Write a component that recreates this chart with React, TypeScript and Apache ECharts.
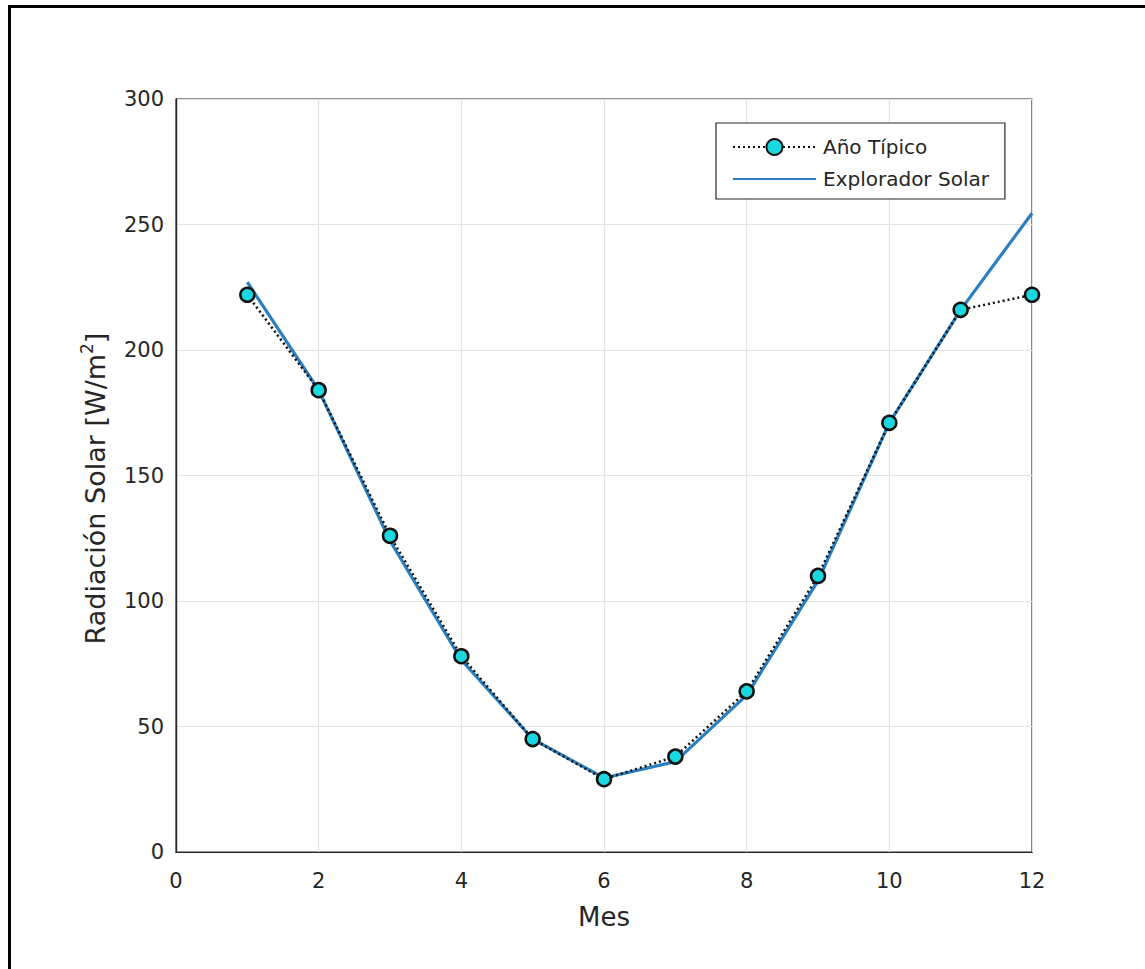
import React, { useEffect, useRef } from "react";
import * as echarts from "echarts";

const months = [1, 2, 3, 4, 5, 6, 7, 8, 9, 10, 11, 12];
const anoTipico = [222, 184, 126, 78, 45, 29, 38, 64, 110, 171, 216, 222];
const exploradorSolar = [227, 184, 124, 76.5, 45, 29.5, 36, 62.5, 108, 171, 216, 254.5];
const xTicks = [0, 2, 4, 6, 8, 10, 12];
const yTicks = [0, 50, 100, 150, 200, 250, 300];

const FONT = "DejaVu Sans, Verdana, sans-serif";
const TXT = "#262626";

export default function App() {
  const ref = useRef<HTMLDivElement>(null);
  useEffect(() => {
    if (!ref.current) return;
    const chart = echarts.init(ref.current, null, { renderer: "svg" });
    const line = { show: true, lineStyle: { color: TXT, width: 1.2 } };
    const tick = { show: false };
    chart.setOption({
      animation: false,
      backgroundColor: "#ffffff",
      textStyle: { fontFamily: FONT },
      grid: { left: 176, top: 99, right: 113, bottom: 117, show: true, borderColor: TXT, borderWidth: 1.2, containLabel: false },
      legend: {
        left: 716,
        top: 123,
        orient: "vertical",
        backgroundColor: "#ffffff",
        borderColor: TXT,
        borderWidth: 1.2,
        borderRadius: 0,
        padding: [14, 16, 10, 16],
        itemWidth: 83,
        itemHeight: 20,
        itemGap: 12,
        textStyle: { fontFamily: FONT, fontSize: 20, color: TXT, padding: [0, 0, 0, 2] },
        data: [
          { name: "Año Típico" },
          { name: "Explorador Solar", itemStyle: { opacity: 0 } },
        ],
      },
      xAxis: [
        {
          type: "value",
          min: 0,
          max: 12,
          interval: 2,
          axisLine: line,
          axisTick: tick,
          name: "Mes",
          nameLocation: "middle",
          nameGap: 52,
          nameTextStyle: { fontFamily: FONT, fontSize: 26, color: TXT },
          axisLabel: { fontFamily: FONT, fontSize: 21, color: TXT, margin: 18, formatter: (v: number) => (xTicks.includes(v) ? String(v) : "") },
          splitLine: { show: true, lineStyle: { color: "#e3e3e3", width: 1.2 } },
        },
        {
          type: "value",
          position: "top",
          min: 0,
          max: 12,
          interval: 2,
          axisLine: line,
          axisTick: tick,
          axisLabel: { show: false },
          splitLine: { show: false },
        },
      ],
      yAxis: [
        {
          type: "value",
          min: 0,
          max: 300,
          interval: 50,
          axisLine: line,
          axisTick: tick,
          name: "Radiación Solar [W/m{sup|2}]",
          nameLocation: "middle",
          nameGap: 64,
          nameTextStyle: {
            fontFamily: FONT,
            fontSize: 27,
            color: TXT,
            padding: [0, 26, 0, 0],
            rich: { sup: { fontFamily: FONT, fontSize: 17, color: TXT, verticalAlign: "top", lineHeight: 34 } },
          },
          axisLabel: { fontFamily: FONT, fontSize: 21, color: TXT, margin: 12, formatter: (v: number) => (yTicks.includes(v) ? String(v) : "") },
          splitLine: { show: true, lineStyle: { color: "#e3e3e3", width: 1.2 } },
        },
        {
          type: "value",
          position: "right",
          min: 0,
          max: 300,
          interval: 50,
          axisLine: line,
          axisTick: tick,
          axisLabel: { show: false },
          splitLine: { show: false },
        },
      ],
      series: [
        {
          name: "Explorador Solar",
          type: "line",
          z: 2,
          data: months.map((m, i) => [m, exploradorSolar[i]]),
          showSymbol: false,
          symbol: "none",
          lineStyle: { color: "#2a7fc0", width: 3.2 },
          itemStyle: { color: "#2a7fc0" },
        },
        {
          name: "Año Típico",
          type: "line",
          z: 3,
          data: months.map((m, i) => [m, anoTipico[i]]),
          symbol: "circle",
          symbolSize: 14,
          lineStyle: { color: "#111111", width: 2.5, type: [2, 3] },
          itemStyle: { color: "#1ad8df", borderColor: "#111111", borderWidth: 2.5 },
        },
      ],
      graphic: [
        {
          type: "polyline",
          shape: { points: [[9.5, 975], [9.5, 6.5], [1150, 6.5]] },
          style: { stroke: "#000000", lineWidth: 3, fill: "none" },
          silent: true,
        },
      ],
    });
    return () => chart.dispose();
  }, []);
  return <div ref={ref} style={{ position: "fixed", left: 0, top: 0, width: 1145, height: 969 }} />;
}
